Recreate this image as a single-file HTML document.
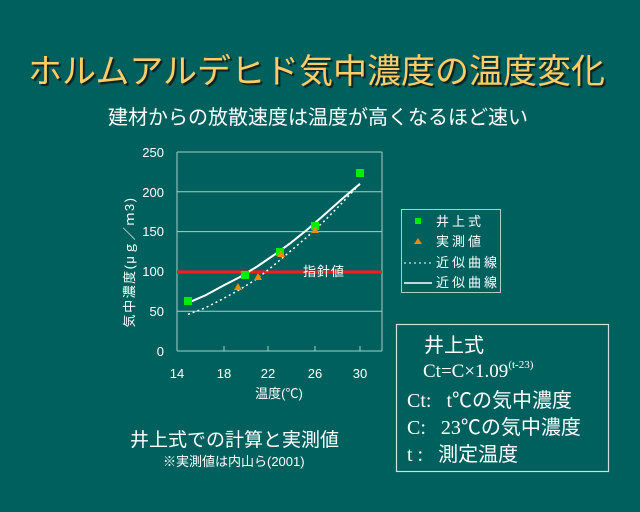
<!DOCTYPE html>
<html><head><meta charset="utf-8"><style>
body{margin:0;width:640px;height:512px;background:#00605e;overflow:hidden;font-family:"Liberation Sans","Noto Sans CJK JP",sans-serif;color:#fff}
.t{position:absolute;white-space:nowrap}
</style></head><body>
<div class="t" style="left:28px;top:44px;font-size:34px;color:#ffcc66;text-shadow:2px 2px 1px #102020;">ホルムアルデヒド気中濃度の温度変化</div>
<div class="t" style="left:108px;top:101px;font-size:20px;">建材からの放散速度は温度が高くなるほど速い</div>
<svg width="640" height="512" style="position:absolute;left:0;top:0" font-family="Liberation Sans, Noto Sans CJK JP, sans-serif">
<g stroke="#a8d0c8" stroke-width="1">
<line x1="177" y1="152" x2="382" y2="152"/>
<line x1="177" y1="191.8" x2="382" y2="191.8"/>
<line x1="177" y1="231.6" x2="382" y2="231.6"/>
<line x1="177" y1="271.4" x2="382" y2="271.4"/>
<line x1="177" y1="311.2" x2="382" y2="311.2"/>
<line x1="177" y1="351" x2="382" y2="351"/>
<line x1="177" y1="152" x2="177" y2="351"/>
<line x1="382" y1="152" x2="382" y2="351"/>
<line x1="224" y1="346" x2="224" y2="351"/><line x1="268" y1="346" x2="268" y2="351"/><line x1="315" y1="346" x2="315" y2="351"/><line x1="360" y1="346" x2="360" y2="351"/>
</g>
<g fill="#fff" font-size="13" text-anchor="end">
<text x="164" y="157">250</text><text x="164" y="197">200</text><text x="164" y="236">150</text><text x="164" y="276">100</text><text x="164" y="316">50</text><text x="164" y="356">0</text>
</g>
<g fill="#fff" font-size="13" text-anchor="middle">
<text x="177" y="378">14</text><text x="224" y="378">18</text><text x="268" y="378">22</text><text x="315" y="378">26</text><text x="360" y="378">30</text>
<text x="279" y="398" font-size="13">温度(℃)</text>
</g>
<text transform="translate(134,262) rotate(-90)" fill="#fff" font-size="13" text-anchor="middle" letter-spacing="1.5">気中濃度(μｇ／ｍ3)</text>
<line x1="177" y1="272" x2="382" y2="272" stroke="#ff1a1a" stroke-width="3"/>
<text x="303" y="276" fill="#fff" font-size="13" letter-spacing="1">指針値</text>
<polyline fill="none" stroke="#fff" stroke-width="1.5" stroke-dasharray="2,3" points="188,314.4 205,308 222,299.3 239,290 256,279.4 273,266 290,251.5 307,237 324,221.3 342,203 360,183.8"/>
<polyline fill="none" stroke="#fff" stroke-width="2" points="189,302.4 206,295 223,285.7 240,277 257,266.6 274,255 291,242.7 308,229 325,214.1 342,199 360,183.8"/>
<g fill="#00ee00">
<rect x="184" y="297" width="8" height="8"/><rect x="241" y="271" width="8" height="8"/><rect x="276" y="248" width="8" height="8"/><rect x="311" y="222" width="8" height="8"/><rect x="356" y="169" width="8" height="8"/>
</g>
<g fill="#f08c00">
<polygon points="238,283 234,290 242,290"/><polygon points="258,273 254,280 262,280"/><polygon points="281,250 277,257 285,257"/><polygon points="315,226 311,233 319,233"/>
</g>
<rect x="401.5" y="209.5" width="99" height="83" fill="none" stroke="#a8d0c8"/>
<rect x="415" y="218" width="6" height="6" fill="#00ee00"/>
<polygon points="418,238 414,244 422,244" fill="#f08c00"/>
<line x1="404" y1="263" x2="432" y2="263" stroke="#fff" stroke-dasharray="2,3"/>
<line x1="404" y1="283" x2="432" y2="283" stroke="#fff" stroke-width="1.5"/>
<g fill="#fff" font-size="13" letter-spacing="3">
<text x="436" y="226">井上式</text><text x="436" y="246">実測値</text><text x="436" y="267">近似曲線</text><text x="436" y="287">近似曲線</text>
</g>
<rect x="396.5" y="324.5" width="212" height="147" fill="none" stroke="#d0e0dc" stroke-width="1.2"/>
<text x="424" y="352" fill="#fff" font-size="20">井上式</text>
<text x="423" y="377" fill="#fff" font-size="19" font-family="Liberation Serif, Noto Serif CJK SC, serif">Ct=C×1.09<tspan font-size="11" dy="-9">(t-23)</tspan></text>
<text x="407" y="407" fill="#fff" font-size="20" xml:space="preserve"><tspan font-family="Liberation Serif, serif">Ct:   t</tspan>℃の気中濃度</text>
<text x="407" y="434" fill="#fff" font-size="20" xml:space="preserve"><tspan font-family="Liberation Serif, serif">C:   23</tspan>℃の気中濃度</text>
<text x="407" y="461" fill="#fff" font-size="20" xml:space="preserve"><tspan font-family="Liberation Serif, serif">t :   </tspan>測定温度</text>
</svg>
<div class="t" style="left:130px;top:425px;font-size:19px;">井上式での計算と実測値</div>
<div class="t" style="left:163px;top:451px;font-size:13px;">※実測値は内山ら(2001)</div>
</body></html>
